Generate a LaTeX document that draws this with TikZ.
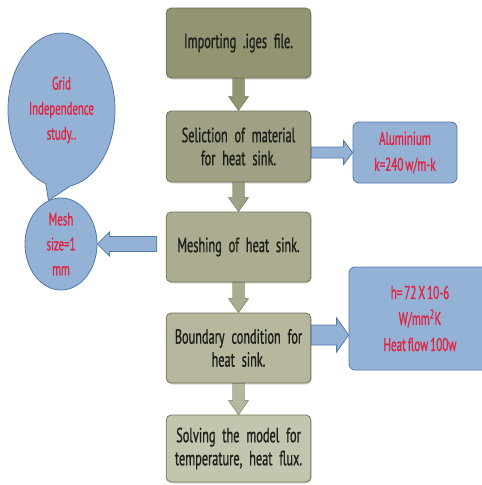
\documentclass[tikz,border=0pt]{standalone}
\usepackage{fontspec}
\setmainfont[FakeStretch=0.6, WordSpace=0.65, FakeBold=0.8]{PT Sans}
\usetikzlibrary{positioning,calc,shapes.geometric,shadows}
\definecolor{olvA}{HTML}{929472}
\definecolor{olvB}{HTML}{A0A184}
\definecolor{olvC}{HTML}{ABAC90}
\definecolor{olvD}{HTML}{B6B79D}
\definecolor{olvE}{HTML}{C4C5AE}
\definecolor{olvline}{HTML}{6F7157}
\definecolor{blufill}{HTML}{93B2D6}
\definecolor{bluline}{HTML}{5479A6}
\definecolor{redtxt}{HTML}{E3213F}
\definecolor{txtdark}{HTML}{1E1E1A}

\begin{document}
\begin{tikzpicture}[x=1pt, y=-1pt,
  font=\fontsize{20.5}{23}\selectfont,
  stp/.style={draw=olvline, rounded corners=5pt, align=center, minimum width=141pt, text width=138pt, line width=0.8pt, text=txtdark, drop shadow={opacity=0.3, shadow xshift=1pt, shadow yshift=-1.5pt}},
  note/.style={draw=bluline, fill=blufill, rounded corners=6pt, align=center, line width=0.8pt, text=redtxt, font=\fontsize{18.5}{26}\selectfont},
  blob/.style={ellipse, draw=bluline, fill=blufill, align=center, inner sep=0pt, line width=0.8pt, text=redtxt, font=\fontsize{18}{25}\selectfont},
  blkarr/.style n args={3}{to path={
    ($(\tikztostart)!#1!90:(\tikztotarget)$)
    -- ($($(\tikztotarget)!#3!(\tikztostart)$)!#1!90:(\tikztotarget)$)
    -- ($($(\tikztotarget)!#3!(\tikztostart)$)!#2!90:(\tikztotarget)$)
    -- (\tikztotarget)
    -- ($($(\tikztotarget)!#3!(\tikztostart)$)!#2!-90:(\tikztotarget)$)
    -- ($($(\tikztotarget)!#3!(\tikztostart)$)!#1!-90:(\tikztotarget)$)
    -- ($(\tikztostart)!#1!-90:(\tikztotarget)$) -- cycle}},
  dnarr/.style={blkarr={6pt}{10pt}{14pt}, draw=olvline, line width=0.4pt},
  bluarr/.style={draw=bluline, fill=blufill, line width=0.8pt}
]
  \useasboundingbox (0,0) rectangle (482,485);

  % langkah utama
  \node[stp, fill=olvA, minimum height=70pt] (imp)  at (238.5,43)    {Importing .iges file.};
  \node[stp, fill=olvB, minimum height=71pt] (mat)  at (238.5,146.5) {Seliction of material\\for heat sink.};
  \node[stp, fill=olvC, minimum height=70pt] (msh)  at (238.5,247)   {Meshing of heat sink.};
  \node[stp, fill=olvD, minimum height=70pt] (bnd)  at (238.5,348)   {Boundary condition for\\heat sink.};
  \node[stp, fill=olvE, minimum height=67pt] (slv)  at (238.5,448.5) {Solving the model for\\temperature, heat flux.};

  % catatan
  \node[note, minimum width=104pt, minimum height=61pt] (alu) at (405,152.5) {Aluminium\\k=240 w/m-k};
  \node[note, minimum width=142pt, minimum height=103pt] (hcoef) at (420,318.5) {h= 72 X 10-6\\W/mm\textsuperscript{2}K\\Heat flow 100w};
  \node[blob, minimum width=107pt, minimum height=154pt] (grid) at (61.5,110) {Grid\\Independence\\study..};
  \node[blob, minimum width=72pt, minimum height=92pt] (mesh) at (61,244) {Mesh\\size=1\\mm};
  \fill[blufill] (grid.258) -- (mesh.106) -- (grid.276) -- ($(grid.center)!0.85!(grid.267)$) -- cycle;
  \draw[bluline, line width=0.8pt] (grid.258) -- (mesh.106) -- (grid.276);

  % panah
  \draw[dnarr, fill=olvA] (imp.south) to (mat.north);
  \draw[dnarr, fill=olvB] (mat.south) to (msh.north);
  \draw[dnarr, fill=olvC] (msh.south) to (bnd.north);
  \draw[dnarr, fill=olvD] (bnd.south) to (slv.north);
  \draw[bluarr, blkarr={5.5pt}{12pt}{9pt}] (mat.east |- alu.west) to (alu.west);
  \draw[bluarr, blkarr={7.5pt}{12pt}{12pt}] ([xshift=-9pt]msh.west |- mesh.east) to (mesh.east);
  \draw[bluarr, blkarr={10pt}{17pt}{12pt}] ([yshift=13pt]bnd.east) to ([yshift=13pt]bnd.east -| hcoef.west);
\end{tikzpicture}
\end{document}
